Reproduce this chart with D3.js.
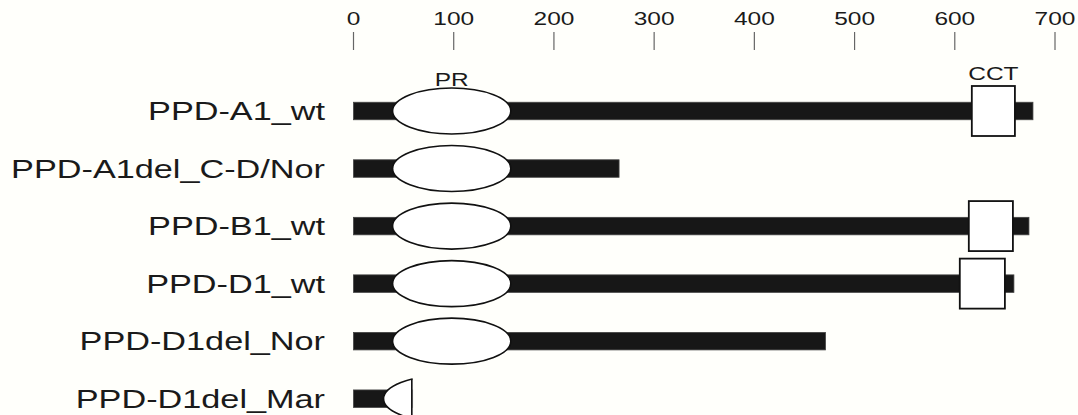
<!DOCTYPE html>
<html>
<head>
<meta charset="utf-8">
<script src="https://cdn.jsdelivr.net/npm/d3@7"></script>
<style>
  html, body { margin: 0; padding: 0; background: #fffffb; }
  svg { display: block; }
  text { font-family: "Liberation Sans", Arial, sans-serif; fill: #1a1a1a; }
</style>
</head>
<body>
<svg id="chart" width="1078" height="415"></svg>
<script>
// Protein variants and their lengths (amino acids)
const variants = ["PPD-A1_wt", "PPD-A1del_C-D/Nor", "PPD-B1_wt", "PPD-D1_wt", "PPD-D1del_Nor", "PPD-D1del_Mar"];
const proteinLength = [678, 265, 674, 659, 471, 59];

// Pseudo-receiver (PR) domain span
const prStart = [39, 39, 39, 39, 39, 30];
const prEnd = [157, 157, 157, 157, 157, 148];

// CCT domain span (null where absent)
const cctStart = [617, null, 614, 605, null, null];
const cctEnd = [660, null, 658, 650, null, null];

const axisTicks = [0, 100, 200, 300, 400, 500, 600, 700];

const labelStretch = 1.37; // horizontal text stretch for row labels
const smallStretch = 1.4;  // horizontal text stretch for axis / domain names

const svg = d3.select("#chart");

const x = d3.scaleLinear().domain([0, 700]).range([353.5, 1055]);
const y = d3.scalePoint().domain(variants).range([111, 398.7]);

// Top axis: tick marks and numbers
const axisG = svg.append("g");
axisG.selectAll("line.tick").data(axisTicks).join("line")
  .attr("x1", d => x(d)).attr("x2", d => x(d))
  .attr("y1", 32).attr("y2", 50)
  .attr("stroke", "#666").attr("stroke-width", 1.2);
axisG.selectAll("text.tick").data(axisTicks).join("text")
  .attr("transform", d => `translate(${x(d)},25.3) scale(${smallStretch},1)`)
  .attr("text-anchor", "middle")
  .style("font-size", "17.5px")
  .text(d => d);

const rows = variants.map((v, i) => ({
  name: v, len: proteinLength[i], prS: prStart[i], prE: prEnd[i],
  cS: cctStart[i], cE: cctEnd[i]
}));

// Row labels
svg.selectAll("text.label").data(rows).join("text")
  .attr("class", "label")
  .attr("transform", d => `translate(325,${y(d.name) + 9}) scale(${labelStretch},1)`)
  .attr("text-anchor", "end")
  .style("font-size", "25px")
  .text(d => d.name);

const barH = 17.5;
const ry = 23;
const boxH = 50;

const defs = svg.append("defs");

rows.forEach((d, i) => {
  const cy = y(d.name);
  const g = svg.append("g");
  // clip everything to the protein length
  const clipId = "clip" + i;
  defs.append("clipPath").attr("id", clipId)
    .append("rect")
    .attr("x", x(0) - 2).attr("y", cy - 40)
    .attr("width", x(d.len) - x(0) + 2).attr("height", 80);

  g.append("rect")
    .attr("x", x(0)).attr("y", cy - barH / 2)
    .attr("width", x(d.len) - x(0)).attr("height", barH)
    .attr("fill", "#171717").attr("stroke", "#444").attr("stroke-width", 0.8);

  const ecx = (x(d.prS) + x(d.prE)) / 2;
  const erx = (x(d.prE) - x(d.prS)) / 2;
  g.append("ellipse")
    .attr("clip-path", `url(#${clipId})`)
    .attr("cx", ecx).attr("cy", cy)
    .attr("rx", erx).attr("ry", ry)
    .attr("fill", "#fff").attr("stroke", "#111").attr("stroke-width", 1.6);

  // closing edge where the protein is truncated inside the PR domain
  if (d.len < d.prE) {
    const cx = x(d.len);
    const t = (cx - ecx) / erx;
    const h = ry * Math.sqrt(Math.max(0, 1 - t * t));
    g.append("line")
      .attr("x1", cx - 0.8).attr("x2", cx - 0.8)
      .attr("y1", cy - h).attr("y2", cy + h)
      .attr("stroke", "#111").attr("stroke-width", 1.6);
  }

  if (d.cS != null) {
    g.append("rect")
      .attr("x", x(d.cS)).attr("y", cy - boxH / 2)
      .attr("width", x(d.cE) - x(d.cS)).attr("height", boxH)
      .attr("fill", "#fff").attr("stroke", "#111").attr("stroke-width", 1.8);
  }
});

// Domain names above the first row
const first = rows[0];
svg.append("text")
  .attr("transform", `translate(${(x(first.prS) + x(first.prE)) / 2},86) scale(${smallStretch},1)`)
  .attr("text-anchor", "middle")
  .style("font-size", "17.5px")
  .text("PR");
svg.append("text")
  .attr("transform", `translate(${(x(first.cS) + x(first.cE)) / 2},80) scale(${smallStretch},1)`)
  .attr("text-anchor", "middle")
  .style("font-size", "17.5px")
  .text("CCT");
</script>
</body>
</html>
